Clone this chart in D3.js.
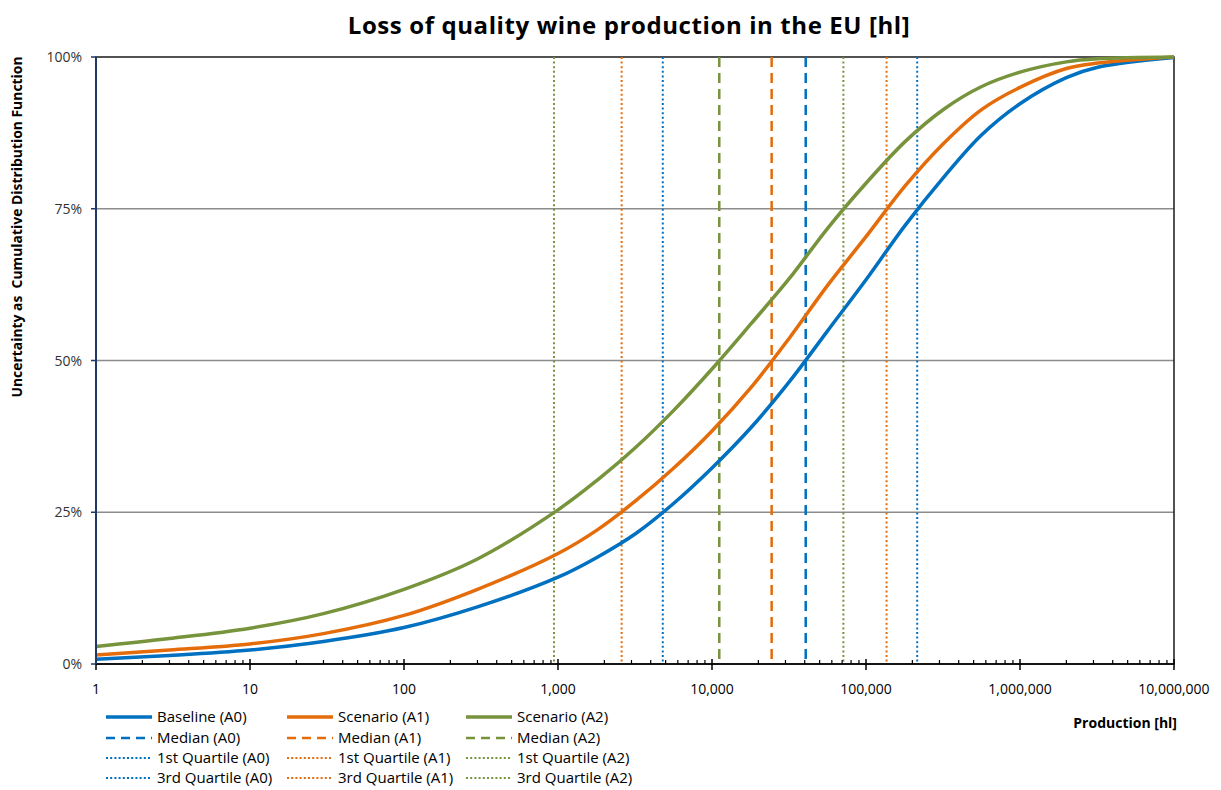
<!DOCTYPE html>
<html>
<head>
<meta charset="utf-8">
<script src="https://cdn.jsdelivr.net/npm/d3@7"></script>
<style>
  body { margin: 0; background: #fff; }
  text { font-family: "Open Sans", Lato, sans-serif; }
</style>
</head>
<body>
<div id="chart"></div>
<script>
// production grid [hl] and cumulative probabilities [%]
var production = [1, 3, 10, 30, 100, 300, 1000, 1800, 3200, 5600, 10000, 18000, 32000,
  56000, 100000, 180000, 320000, 560000, 1000000, 2000000, 3200000, 10000000];
var baselineA0 = [0.8, 1.4, 2.3, 3.7, 6.0, 9.4, 14.3, 17.6, 21.5, 26.4, 32.3, 39.0, 46.6,
  54.8, 63.3, 72.3, 80.2, 87.1, 92.3, 96.6, 98.3, 99.9];
var scenarioA1 = [1.5, 2.3, 3.3, 5.0, 8.0, 12.3, 18.2, 22.1, 26.9, 32.2, 38.4, 45.6, 53.8,
  62.3, 70.4, 78.8, 85.8, 91.3, 95.0, 98.1, 99.0, 100];
var scenarioA2 = [2.9, 4.2, 5.9, 8.3, 12.3, 17.3, 25.4, 30.3, 35.7, 41.7, 48.6, 56.1, 63.6,
  71.7, 79.2, 86.1, 91.4, 95.1, 97.5, 99.2, 99.7, 100];

// median and quartiles [hl]
var medians = [40600, 24400, 11150];
var quartile1 = [4790, 2590, 942];
var quartile3 = [215000, 136000, 71300];

var scenarioNames = ["A0", "A1", "A2"];
var colors = ["#0070C0", "#E46C0A", "#77933C"];
var xTicks = [1, 10, 100, 1000, 10000, 100000, 1000000, 10000000];
var yTicks = [0, 25, 50, 75, 100];

render();

function render() {
  var W = 1221, H = 790;
  var margin = { top: 57, right: 47, bottom: 126, left: 96 };
  var width = W - margin.left - margin.right;
  var height = H - margin.top - margin.bottom;

  var svg = d3.select("#chart")
    .append("svg")
    .attr("width", W)
    .attr("height", H);

  svg.append("text")
    .attr("x", 629)
    .attr("y", 34)
    .attr("text-anchor", "middle")
    .style("font-size", "24px")
    .style("font-weight", "bold")
    .style("letter-spacing", "0.6px")
    .attr("fill", "#000")
    .text("Loss of quality wine production in the EU [hl]");

  var g = svg.append("g")
    .attr("transform", "translate(" + margin.left + "," + margin.top + ")");

  var xScale = d3.scaleLog()
    .domain([1, 1e7])
    .range([0, width]);

  var yScale = d3.scaleLinear()
    .domain([0, 100])
    .range([height, 0]);

  // gridlines
  g.selectAll(".grid")
    .data([25, 50, 75])
    .enter().append("line")
    .attr("x1", 0)
    .attr("x2", width)
    .attr("y1", function (d) { return yScale(d); })
    .attr("y2", function (d) { return yScale(d); })
    .attr("stroke", "#8c8c8c")
    .attr("stroke-width", 1.5);

  // plot border
  g.append("rect")
    .attr("width", width)
    .attr("height", height)
    .attr("fill", "none")
    .attr("stroke", "#1a1a1a")
    .attr("stroke-width", 1.5);

  // quartiles (dotted) and medians (dashed)
  function vline(value, color, dash, w) {
    g.append("line")
      .attr("x1", xScale(value))
      .attr("x2", xScale(value))
      .attr("y1", 0)
      .attr("y2", height)
      .attr("stroke", color)
      .attr("stroke-width", w)
      .attr("stroke-dasharray", dash);
  }
  for (var i = 0; i < 3; i++) {
    vline(quartile1[i], colors[i], "2,2.6", 2);
    vline(quartile3[i], colors[i], "2,2.6", 2);
    vline(medians[i], colors[i], "10,6", 2.5);
  }

  var line = d3.line()
    .x(function (d) { return xScale(d[0]); })
    .y(function (d) { return yScale(d[1]); })
    .curve(d3.curveCatmullRom.alpha(0.5));

  var series = [baselineA0, scenarioA1, scenarioA2];
  series.forEach(function (s, i) {
    g.append("path")
      .datum(production.map(function (p, j) { return [p, s[j]]; }))
      .attr("fill", "none")
      .attr("stroke", colors[i])
      .attr("stroke-width", 3.5)
      .attr("stroke-linejoin", "round")
      .attr("d", line);
  });

  // x axis
  var xAxis = g.append("g")
    .attr("transform", "translate(0," + height + ")");
  xAxis.append("line")
    .attr("x1", 0).attr("x2", width)
    .attr("stroke", "#000").attr("stroke-width", 1.5);
  var minor = [];
  for (var e = 0; e < 7; e++) {
    for (var m = 2; m <= 9; m++) minor.push(m * Math.pow(10, e));
  }
  xAxis.selectAll(".minor")
    .data(minor)
    .enter().append("line")
    .attr("x1", function (d) { return xScale(d); })
    .attr("x2", function (d) { return xScale(d); })
    .attr("y1", -4).attr("y2", 0)
    .attr("stroke", "#000").attr("stroke-width", 1.2);
  xAxis.selectAll(".major")
    .data(xTicks)
    .enter().append("line")
    .attr("x1", function (d) { return xScale(d); })
    .attr("x2", function (d) { return xScale(d); })
    .attr("y1", -5).attr("y2", 6)
    .attr("stroke", "#000").attr("stroke-width", 1.5);
  xAxis.selectAll(".lbl")
    .data(xTicks)
    .enter().append("text")
    .attr("x", function (d) { return xScale(d); })
    .attr("y", 30)
    .attr("text-anchor", "middle")
    .style("font-size", "14px")
    .attr("fill", "#000")
    .text(d3.format(","));

  // y axis
  var yAxis = g.append("g");
  yAxis.append("line")
    .attr("y1", 0).attr("y2", height)
    .attr("stroke", "#1F3864").attr("stroke-width", 2);
  yAxis.selectAll(".tick")
    .data(yTicks)
    .enter().append("line")
    .attr("x1", -5).attr("x2", 0)
    .attr("y1", function (d) { return yScale(d); })
    .attr("y2", function (d) { return yScale(d); })
    .attr("stroke", "#1F3864").attr("stroke-width", 1.5);
  yAxis.selectAll(".lbl")
    .data(yTicks)
    .enter().append("text")
    .attr("x", -14)
    .attr("y", function (d) { return yScale(d) + 5; })
    .attr("text-anchor", "end")
    .style("font-size", "14px")
    .attr("fill", "#333")
    .text(function (d) { return d + "%"; });

  svg.append("text")
    .attr("transform", "translate(22,227) rotate(-90)")
    .attr("text-anchor", "middle")
    .style("font-size", "13.9px")
    .style("font-weight", "bold")
    .attr("fill", "#000")
    .attr("xml:space", "preserve")
    .style("white-space", "pre")
    .text("Uncertainty as  Cumulative Distribution Function");

  svg.append("text")
    .attr("x", 1177)
    .attr("y", 728)
    .attr("text-anchor", "end")
    .style("font-size", "14px")
    .style("font-weight", "bold")
    .attr("fill", "#000")
    .text("Production [hl]");

  // legend
  var legendRows = [
    { name: "Baseline", dash: null, w: 3.5 },
    { name: "Median", dash: "9,6", w: 2.5 },
    { name: "1st Quartile", dash: "2,2.2", w: 2 },
    { name: "3rd Quartile", dash: "2,2.2", w: 2 }
  ];
  var colX = [106, 287, 466];
  var rowY = [717, 738, 758, 778];
  legendRows.forEach(function (r, ri) {
    for (var c = 0; c < 3; c++) {
      var lg = svg.append("g")
        .attr("transform", "translate(" + colX[c] + "," + rowY[ri] + ")");
      lg.append("line")
        .attr("x1", 0).attr("x2", 46)
        .attr("stroke", colors[c])
        .attr("stroke-width", r.w)
        .attr("stroke-dasharray", r.dash);
      var label = ri === 0 ? (c === 0 ? "Baseline" : "Scenario") : r.name;
      lg.append("text")
        .attr("x", 51)
        .attr("y", 5)
        .style("font-size", "15px")
        .attr("fill", "#000")
        .text(label + " (" + scenarioNames[c] + ")");
    }
  });
}
</script>
</body>
</html>
